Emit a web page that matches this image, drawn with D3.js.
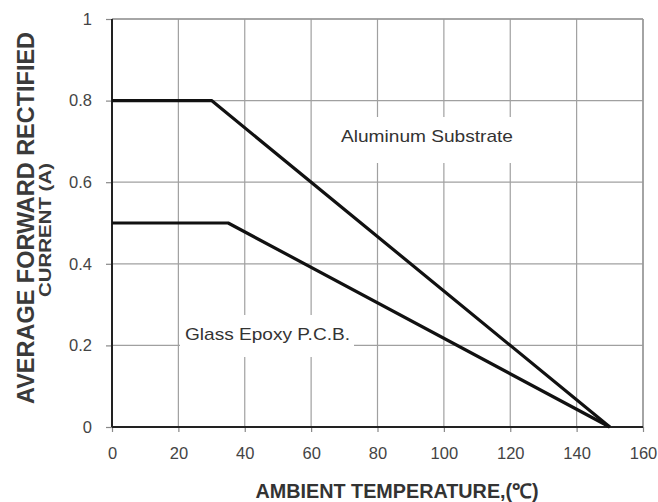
<!DOCTYPE html>
<html><head><meta charset="utf-8">
<script src="https://cdn.jsdelivr.net/npm/d3@7"></script>
<style>body{margin:0;background:#fff}</style>
</head><body>
<svg id="c" width="658" height="502"></svg>
<script>
const xTicks = [0,20,40,60,80,100,120,140,160];
const yTicks = [0,0.2,0.4,0.6,0.8,1];
const yTickLabels = ["0","0.2","0.4","0.6","0.8","1"];
const aluminumTemp = [0,30,150];
const aluminumCurrent = [0.8,0.8,0];
const glassTemp = [0,35,150];
const glassCurrent = [0.5,0.5,0];
const seriesLabels = ["Aluminum Substrate","Glass Epoxy P.C.B."];
const xTitle = "AMBIENT TEMPERATURE,(℃)";
const yTitle = ["AVERAGE FORWARD RECTIFIED","CURRENT (A)"];

const svg = d3.select("#c");
const L=112, R=643, T=19, B=427;
const x = d3.scaleLinear().domain([0,160]).range([L,R]);
const y = d3.scaleLinear().domain([0,1]).range([B,T]);
const font = "'Liberation Sans', Arial, sans-serif";

// grid
const g = svg.append("g");
g.selectAll(".vx").data(xTicks.slice(1)).enter().append("line")
  .attr("x1",d=>x(d)).attr("x2",d=>x(d)).attr("y1",T).attr("y2",B)
  .attr("stroke","#a0a0a0").attr("stroke-width",1.2);
g.selectAll(".hy").data(yTicks.slice(1)).enter().append("line")
  .attr("x1",L).attr("x2",R).attr("y1",d=>y(d)).attr("y2",d=>y(d))
  .attr("stroke","#a0a0a0").attr("stroke-width",1.2);

// series label backgrounds + text
const labels = [
  {t:seriesLabels[0], cx:427, base:142, w:172, bx:336, by:117, bw:180, bh:46},
  {t:seriesLabels[1], cx:267.5, base:340, w:165, bx:180, by:315, bw:174, bh:42}
];
labels.forEach(l=>{
  svg.append("rect").attr("x",l.bx).attr("y",l.by).attr("width",l.bw).attr("height",l.bh).attr("fill","#fff");
  svg.append("text").attr("x",l.cx).attr("y",l.base).attr("text-anchor","middle")
    .attr("font-family",font).attr("font-size",17).attr("fill","#333")
    .attr("textLength",l.w).attr("lengthAdjust","spacingAndGlyphs").text(l.t);
});

// axes
const xAxis = d3.axisBottom(x).tickValues(xTicks).tickSize(5).tickPadding(15).tickFormat(d3.format("d"));
const yAxis = d3.axisLeft(y).tickValues(yTicks).tickSize(6).tickPadding(14).tickFormat((d,i)=>yTickLabels[i]);
const ax = svg.append("g").attr("transform",`translate(0,${B})`).call(xAxis);
const ay = svg.append("g").attr("transform",`translate(${L},0)`).call(yAxis);
[ax,ay].forEach(a=>{
  a.select(".domain").remove();
  a.selectAll(".tick line").attr("stroke","#888").attr("stroke-width",1.2);
  a.selectAll(".tick text").attr("font-family",font).attr("font-size",16.5).attr("fill","#444");
});
// frame
svg.append("line").attr("x1",L).attr("x2",R).attr("y1",T).attr("y2",T).attr("stroke","#999").attr("stroke-width",1.5);
svg.append("line").attr("x1",R).attr("x2",R).attr("y1",T).attr("y2",B).attr("stroke","#999").attr("stroke-width",1.5);
svg.append("line").attr("x1",L).attr("x2",R).attr("y1",B).attr("y2",B).attr("stroke","#222").attr("stroke-width",2);
svg.append("line").attr("x1",L).attr("x2",L).attr("y1",T).attr("y2",B).attr("stroke","#222").attr("stroke-width",2);

// series
const line = d3.line().x(d=>x(d[0])).y(d=>y(d[1]));
[[aluminumTemp,aluminumCurrent],[glassTemp,glassCurrent]].forEach(([xs,ys])=>{
  svg.append("path").datum(xs.map((v,i)=>[v,ys[i]])).attr("d",line)
    .attr("fill","none").attr("stroke","#111").attr("stroke-width",3.2).attr("stroke-linejoin","round");
});

// titles
svg.append("text").attr("x",397).attr("y",498).attr("text-anchor","middle")
  .attr("font-family",font).attr("font-weight","bold").attr("font-size",20).attr("fill","#333")
  .attr("textLength",283).attr("lengthAdjust","spacingAndGlyphs").text(xTitle);
const yt = svg.append("g").attr("transform","translate(0,218) rotate(-90)");
yt.append("text").attr("x",0).attr("y",34).attr("text-anchor","middle")
  .attr("font-family",font).attr("font-weight","bold").attr("font-size",23).attr("fill","#3a3a3a")
  .attr("textLength",372).attr("lengthAdjust","spacingAndGlyphs").text(yTitle[0]);
yt.append("text").attr("x",-12).attr("y",51).attr("text-anchor","middle")
  .attr("font-family",font).attr("font-weight","bold").attr("font-size",17).attr("fill","#3a3a3a")
  .attr("textLength",134).attr("lengthAdjust","spacingAndGlyphs").text(yTitle[1]);
</script>
</body></html>
